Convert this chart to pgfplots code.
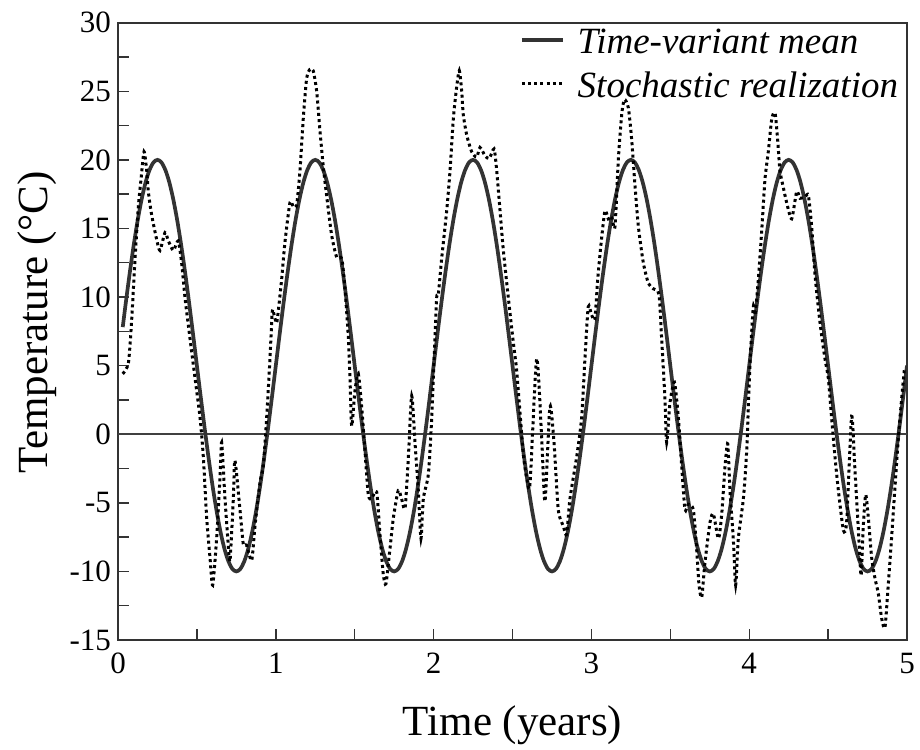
\documentclass[border=0pt]{standalone}
\usepackage{fontspec}
\setmainfont{Liberation Serif}
\usepackage{pgfplots}
\pgfplotsset{compat=1.18}

\begin{document}
\begin{tikzpicture}
\begin{axis}[
  name=ax,
  scale only axis,
  width=394.5pt, height=308.65pt,
  xmin=0, xmax=5, ymin=-15, ymax=30,
  xtick={0,1,2,3,4,5},
  ytick={-15,-10,-5,0,5,10,15,20,25,30},
  minor x tick num=1, minor y tick num=1,
  tick align=inside, xtick pos=bottom, ytick pos=left,
  major tick length=5.5pt, minor tick length=5.5pt,
  axis line style={line width=1pt, black!80},
  every tick/.style={line width=0.7pt, black!80},
  /pgf/number format/assume math mode=true,
  ticklabel style={font=\fontsize{15.5}{18}\selectfont},
  xticklabel style={yshift=-3pt},
  xlabel={Time (years)},
  ylabel={Temperature (°C)},
  label style={font=\fontsize{21.5}{25}\selectfont},
  xlabel style={at={(axis description cs:0.5,-0.106)}, anchor=north, inner sep=0pt},
  ylabel style={at={(axis description cs:-0.128,0.515)}, anchor=north, inner sep=0pt},
  legend style={draw=none, fill=none, at={(axis description cs:0.5090,0.9925)},
    anchor=north west, inner sep=0pt, row sep=5pt, column sep=6.5pt,
    font=\itshape\fontsize{18.5}{22}\selectfont,
    nodes={inner sep=0pt, text height=13pt, text depth=4pt}},
  legend cell align=left,
  legend image code/.code={\draw[#1] (0pt,2.5pt) -- (20.5pt,2.5pt);},
]
% zero line
\addplot[black!75, line width=0.75pt, forget plot] coordinates {(0,0) (5,0)};

% time-variant mean
\addplot[black!80, line width=1.85pt, smooth] coordinates {
(0.030,7.81)(0.050,9.64)(0.075,11.81)(0.100,13.82)(0.125,15.61)(0.150,17.14)(0.175,18.37)(0.200,19.27)(0.225,19.82)(0.250,20.00)
(0.275,19.82)(0.300,19.27)(0.325,18.37)(0.350,17.14)(0.375,15.61)(0.400,13.82)(0.425,11.81)(0.450,9.64)(0.475,7.35)(0.500,5.00)
(0.525,2.65)(0.550,0.36)(0.575,-1.81)(0.600,-3.82)(0.625,-5.61)(0.650,-7.14)(0.675,-8.37)(0.700,-9.27)(0.725,-9.82)(0.750,-10.00)
(0.775,-9.82)(0.800,-9.27)(0.825,-8.37)(0.850,-7.14)(0.875,-5.61)(0.900,-3.82)(0.925,-1.81)(0.950,0.36)(0.975,2.65)(1.000,5.00)
(1.025,7.35)(1.050,9.64)(1.075,11.81)(1.100,13.82)(1.125,15.61)(1.150,17.14)(1.175,18.37)(1.200,19.27)(1.225,19.82)(1.250,20.00)
(1.275,19.82)(1.300,19.27)(1.325,18.37)(1.350,17.14)(1.375,15.61)(1.400,13.82)(1.425,11.81)(1.450,9.64)(1.475,7.35)(1.500,5.00)
(1.525,2.65)(1.550,0.36)(1.575,-1.81)(1.600,-3.82)(1.625,-5.61)(1.650,-7.14)(1.675,-8.37)(1.700,-9.27)(1.725,-9.82)(1.750,-10.00)
(1.775,-9.82)(1.800,-9.27)(1.825,-8.37)(1.850,-7.14)(1.875,-5.61)(1.900,-3.82)(1.925,-1.81)(1.950,0.36)(1.975,2.65)(2.000,5.00)
(2.025,7.35)(2.050,9.64)(2.075,11.81)(2.100,13.82)(2.125,15.61)(2.150,17.14)(2.175,18.37)(2.200,19.27)(2.225,19.82)(2.250,20.00)
(2.275,19.82)(2.300,19.27)(2.325,18.37)(2.350,17.14)(2.375,15.61)(2.400,13.82)(2.425,11.81)(2.450,9.64)(2.475,7.35)(2.500,5.00)
(2.525,2.65)(2.550,0.36)(2.575,-1.81)(2.600,-3.82)(2.625,-5.61)(2.650,-7.14)(2.675,-8.37)(2.700,-9.27)(2.725,-9.82)(2.750,-10.00)
(2.775,-9.82)(2.800,-9.27)(2.825,-8.37)(2.850,-7.14)(2.875,-5.61)(2.900,-3.82)(2.925,-1.81)(2.950,0.36)(2.975,2.65)(3.000,5.00)
(3.025,7.35)(3.050,9.64)(3.075,11.81)(3.100,13.82)(3.125,15.61)(3.150,17.14)(3.175,18.37)(3.200,19.27)(3.225,19.82)(3.250,20.00)
(3.275,19.82)(3.300,19.27)(3.325,18.37)(3.350,17.14)(3.375,15.61)(3.400,13.82)(3.425,11.81)(3.450,9.64)(3.475,7.35)(3.500,5.00)
(3.525,2.65)(3.550,0.36)(3.575,-1.81)(3.600,-3.82)(3.625,-5.61)(3.650,-7.14)(3.675,-8.37)(3.700,-9.27)(3.725,-9.82)(3.750,-10.00)
(3.775,-9.82)(3.800,-9.27)(3.825,-8.37)(3.850,-7.14)(3.875,-5.61)(3.900,-3.82)(3.925,-1.81)(3.950,0.36)(3.975,2.65)(4.000,5.00)
(4.025,7.35)(4.050,9.64)(4.075,11.81)(4.100,13.82)(4.125,15.61)(4.150,17.14)(4.175,18.37)(4.200,19.27)(4.225,19.82)(4.250,20.00)
(4.275,19.82)(4.300,19.27)(4.325,18.37)(4.350,17.14)(4.375,15.61)(4.400,13.82)(4.425,11.81)(4.450,9.64)(4.475,7.35)(4.500,5.00)
(4.525,2.65)(4.550,0.36)(4.575,-1.81)(4.600,-3.82)(4.625,-5.61)(4.650,-7.14)(4.675,-8.37)(4.700,-9.27)(4.725,-9.82)(4.750,-10.00)
(4.775,-9.82)(4.800,-9.27)(4.825,-8.37)(4.850,-7.14)(4.875,-5.61)(4.900,-3.82)(4.925,-1.81)(4.950,0.36)(4.975,2.65)(5.000,5.00)
};
\addlegendentry{Time-variant mean}

% stochastic realization
\addplot[black, line width=1.5pt, dash pattern=on 1.5pt off 1.6pt, smooth, tension=0.4] coordinates {
(0.030,4.4)(0.066,5.2)(0.087,8.4)(0.108,12.8)(0.129,16.6)(0.146,18.6)(0.165,20.6)(0.182,19.2)(0.192,17.7)(0.213,16.0)
(0.245,14.2)(0.266,13.4)(0.298,14.7)(0.319,14.1)(0.351,13.4)(0.382,14.1)(0.405,12.3)(0.425,9.9)(0.456,7.0)(0.488,4.1)
(0.520,1.2)(0.541,-1.7)(0.562,-6.1)(0.583,-9.0)(0.600,-11.0)(0.625,-7.6)(0.646,-3.2)(0.657,-0.6)(0.678,-4.7)(0.699,-8.1)
(0.710,-9.2)(0.731,-4.7)(0.741,-1.9)(0.773,-5.5)(0.794,-8.0)(0.815,-8.1)(0.847,-9.2)(0.868,-6.7)(0.900,-3.5)(0.921,-2.3)
(0.942,1.2)(0.963,5.5)(0.978,9.0)(0.991,8.6)(1.005,8.1)(1.016,9.0)(1.037,11.3)(1.058,14.0)(1.090,16.9)(1.111,16.6)
(1.132,16.7)(1.153,19.2)(1.174,23.0)(1.195,25.9)(1.216,26.6)(1.237,26.5)(1.259,25.0)(1.280,22.1)(1.301,19.5)(1.322,17.4)
(1.354,14.5)(1.386,12.9)(1.418,12.8)(1.439,10.5)(1.460,7.0)(1.470,4.1)(1.481,0.6)(1.502,3.2)(1.523,4.4)(1.544,2.0)
(1.565,-1.2)(1.586,-4.4)(1.607,-4.7)(1.639,-4.2)(1.660,-7.3)(1.681,-10.2)(1.698,-10.9)(1.723,-8.4)(1.745,-6.1)(1.776,-4.1)
(1.797,-4.7)(1.819,-5.4)(1.840,-1.7)(1.861,2.8)(1.882,-0.6)(1.903,-4.1)(1.920,-7.6)(1.935,-4.7)(1.967,-2.9)(1.988,1.2)
(2.003,5.5)(2.019,9.9)(2.030,10.2)(2.051,12.8)(2.083,16.3)(2.104,19.2)(2.125,23.0)(2.146,25.3)(2.163,26.5)(2.178,25.0)
(2.188,23.3)(2.210,21.8)(2.241,20.6)(2.273,20.2)(2.294,20.9)(2.326,20.3)(2.353,20.1)(2.383,20.8)(2.400,19.2)(2.421,16.3)
(2.442,13.4)(2.474,9.9)(2.505,6.7)(2.526,4.7)(2.548,1.5)(2.569,-1.5)(2.590,-3.2)(2.611,-3.6)(2.653,5.5)(2.685,-0.3)
(2.706,-4.9)(2.737,2.0)(2.763,-0.6)(2.790,-5.5)(2.822,-6.7)(2.843,-7.3)(2.864,-4.7)(2.906,-1.7)(2.938,1.2)(2.959,5.5)
(2.980,9.3)(3.001,8.7)(3.022,8.4)(3.040,11.3)(3.062,14.0)(3.086,16.3)(3.107,15.7)(3.128,15.9)(3.149,15.1)(3.171,20.1)
(3.192,23.3)(3.209,24.4)(3.234,23.8)(3.255,21.5)(3.277,18.0)(3.298,15.1)(3.329,12.5)(3.361,11.0)(3.393,10.6)(3.428,10.2)
(3.445,7.0)(3.466,2.6)(3.477,-0.6)(3.498,2.3)(3.526,3.8)(3.551,1.2)(3.572,-2.3)(3.593,-5.5)(3.614,-5.1)(3.646,-5.5)
(3.667,-8.4)(3.682,-11.0)(3.699,-11.9)(3.720,-9.3)(3.752,-6.4)(3.773,-5.8)(3.805,-7.6)(3.826,-5.8)(3.847,-2.3)(3.864,-0.7)
(3.878,-4.1)(3.899,-7.6)(3.914,-11.0)(3.931,-7.6)(3.963,-4.7)(3.984,-1.2)(4.005,5.2)(4.026,9.3)(4.037,8.7)(4.058,11.3)
(4.079,14.8)(4.100,18.6)(4.121,20.6)(4.143,23.0)(4.164,23.4)(4.180,21.5)(4.195,19.2)(4.216,18.0)(4.237,16.9)(4.269,15.7)
(4.301,17.7)(4.322,17.2)(4.353,17.3)(4.375,17.4)(4.396,15.1)(4.417,11.6)(4.449,8.1)(4.480,5.5)(4.501,4.1)(4.522,1.2)
(4.544,-1.7)(4.565,-4.1)(4.597,-7.0)(4.618,-6.3)(4.649,1.3)(4.670,-2.6)(4.692,-7.0)(4.709,-10.3)(4.723,-6.7)(4.738,-4.4)
(4.755,-6.1)(4.776,-9.0)(4.797,-10.5)(4.818,-11.6)(4.839,-13.4)(4.860,-14.1)(4.881,-11.0)(4.902,-7.6)(4.924,-3.8)(4.945,-0.3)
(4.966,2.6)(4.983,4.7)
};
\addlegendentry{Stochastic realization}
\end{axis}
\pgfresetboundingbox
\path ([shift={(-59pt,-54.5pt)}]ax.south west) rectangle ([shift={(6.5pt,11.35pt)}]ax.north east);
\end{tikzpicture}
\end{document}
